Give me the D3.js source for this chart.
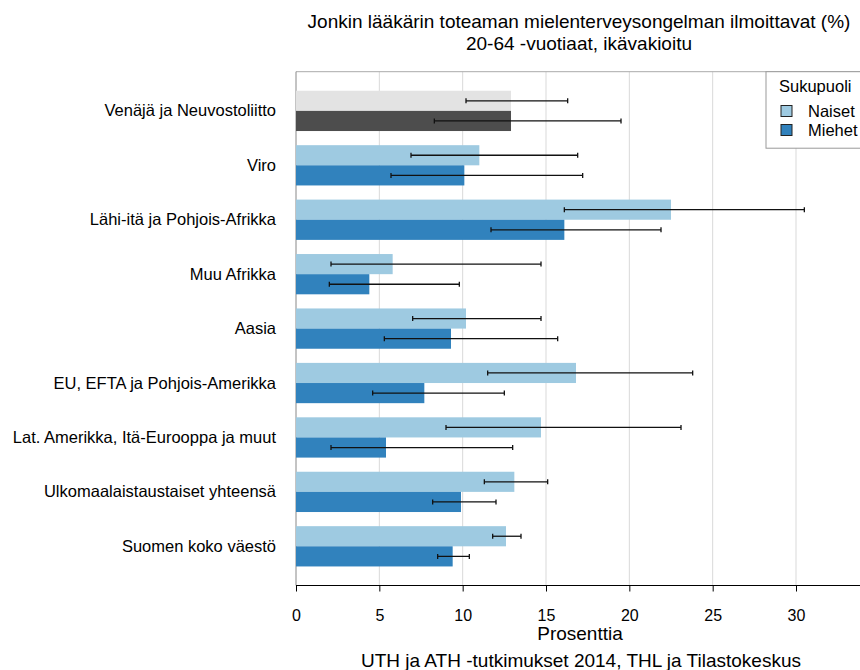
<!DOCTYPE html>
<html><head><meta charset="utf-8">
<script src="https://cdn.jsdelivr.net/npm/d3@7"></script>
<style>body{margin:0;background:#fff;} text{font-family:"Liberation Sans",Arial,sans-serif;fill:#000;}</style>
</head><body><svg id="c" width="860" height="670"></svg>
<script>
const categories = ["Venäjä ja Neuvostoliitto","Viro","Lähi-itä ja Pohjois-Afrikka","Muu Afrikka","Aasia","EU, EFTA ja Pohjois-Amerikka","Lat. Amerikka, Itä-Eurooppa ja muut","Ulkomaalaistaustaiset yhteensä","Suomen koko väestö"];
const naiset = [12.9, 11.0, 22.5, 5.8, 10.2, 16.8, 14.7, 13.1, 12.6];
const naisetLow = [10.2, 6.9, 16.1, 2.1, 7.0, 11.5, 9.0, 11.3, 11.8];
const naisetHigh = [16.3, 16.9, 30.5, 14.7, 14.7, 23.8, 23.1, 15.1, 13.5];
const miehet = [12.9, 10.1, 16.1, 4.4, 9.3, 7.7, 5.4, 9.9, 9.4];
const miehetLow = [8.3, 5.7, 11.7, 2.0, 5.3, 4.6, 2.1, 8.2, 8.5];
const miehetHigh = [19.5, 17.2, 21.9, 9.8, 15.7, 12.5, 13.0, 12.0, 10.4];
const xTicks = [0, 5, 10, 15, 20, 25, 30];
const seriesNames = ["Naiset", "Miehet"];
const title1 = "Jonkin lääkärin toteaman mielenterveysongelman ilmoittavat (%)";
const title2 = "20-64 -vuotiaat, ikävakioitu";
const xLabel = "Prosenttia";
const source = "UTH ja ATH -tutkimukset 2014, THL ja Tilastokeskus";

const svg = d3.select("#c");
const pTop = 71.7, pBottom = 585.5, pLeft = 296;
const x = d3.scaleLinear().domain([0, 34]).range([pLeft, pLeft + 34 * 16.667]);
const y = d3.scalePoint().domain(categories).range([pTop, pBottom]).padding(0.72);
const bh = y.step() * 0.37;

const colors = {Naiset: "#9ecae1", Miehet: "#3182bd"};
const greyColors = {Naiset: "#e3e3e3", Miehet: "#4d4d4d"};

// gridlines
svg.append("g").selectAll("line").data(xTicks.filter(d => d > 0)).join("line")
  .attr("x1", d => x(d)).attr("x2", d => x(d)).attr("y1", pTop).attr("y2", pBottom)
  .attr("stroke", "#d9d9d9").attr("stroke-width", 1);
// frame top and left
svg.append("line").attr("x1", pLeft).attr("x2", 860).attr("y1", pTop).attr("y2", pTop).attr("stroke", "#aaa");
svg.append("line").attr("x1", pLeft).attr("x2", pLeft).attr("y1", pTop).attr("y2", pBottom).attr("stroke", "#888");

const rows = categories.map((c, i) => ({c, i}));
const series = [
  {name: "Naiset", vals: naiset, lo: naisetLow, hi: naisetHigh, off: -bh},
  {name: "Miehet", vals: miehet, lo: miehetLow, hi: miehetHigh, off: 0}
];
series.forEach(s => {
  svg.append("g").selectAll("rect").data(rows).join("rect")
    .attr("x", x(0)).attr("y", d => y(d.c) + s.off)
    .attr("width", d => x(s.vals[d.i]) - x(0)).attr("height", bh)
    .attr("fill", d => d.i === 0 ? greyColors[s.name] : colors[s.name]);
});
series.forEach(s => {
  const eb = svg.append("g").attr("stroke", "#111").attr("stroke-width", 1.3);
  rows.forEach(d => {
    const yc = y(d.c) + s.off + bh / 2;
    eb.append("line").attr("x1", x(s.lo[d.i])).attr("x2", x(s.hi[d.i])).attr("y1", yc).attr("y2", yc);
    eb.append("line").attr("x1", x(s.lo[d.i])).attr("x2", x(s.lo[d.i])).attr("y1", yc - 2.5).attr("y2", yc + 2.5);
    eb.append("line").attr("x1", x(s.hi[d.i])).attr("x2", x(s.hi[d.i])).attr("y1", yc - 2.5).attr("y2", yc + 2.5);
  });
});

// category labels
svg.append("g").selectAll("text").data(categories).join("text")
  .attr("x", 276).attr("y", d => y(d) + 5.5).attr("text-anchor", "end")
  .style("font-size", "16.5px").text(d => d);

// x axis
const ax = svg.append("g").attr("transform", `translate(0,${pBottom})`)
  .call(d3.axisBottom(x).tickValues(xTicks).tickSize(6).tickSizeOuter(0).tickPadding(18));
ax.select(".domain").attr("stroke", "#000").attr("d", `M${pLeft},0H860`);
ax.selectAll(".tick line").attr("stroke", "#000");
ax.selectAll("text").style("font-size", "16px").attr("font-family", null);

svg.append("text").attr("x", 580).attr("y", 640).attr("text-anchor", "middle").style("font-size", "19px").text(xLabel);
svg.append("text").attr("x", 581).attr("y", 667).attr("text-anchor", "middle").style("font-size", "19px").text(source);

// title
svg.append("text").attr("x", 579).attr("y", 28).attr("text-anchor", "middle").style("font-size", "19px").text(title1);
svg.append("text").attr("x", 579).attr("y", 50).attr("text-anchor", "middle").style("font-size", "19px").text(title2);

// legend
const lg = svg.append("g");
lg.append("rect").attr("x", 766).attr("y", pTop).attr("width", 100).attr("height", 76.5)
  .attr("fill", "#fff").attr("stroke", "#999");
lg.append("text").attr("x", 779).attr("y", 92).style("font-size", "16.5px").text("Sukupuoli");
seriesNames.forEach((n, i) => {
  const yy = 111 + i * 19;
  lg.append("rect").attr("x", 781).attr("y", yy - 5.5).attr("width", 11).attr("height", 11)
    .attr("fill", colors[n]).attr("stroke", "#222").attr("stroke-width", 1);
  lg.append("text").attr("x", 808).attr("y", yy + 6).style("font-size", "16.5px").text(n);
});
</script></body></html>
